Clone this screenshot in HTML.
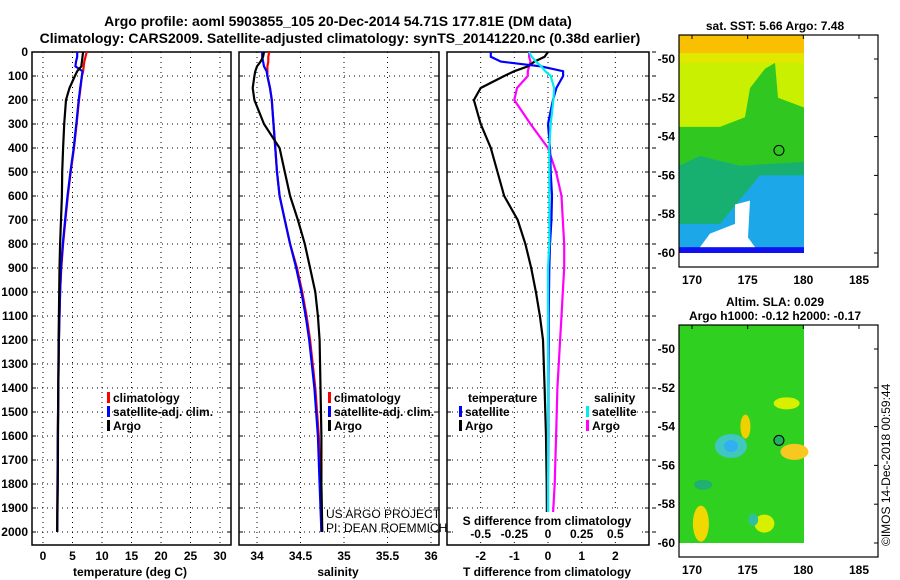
<!DOCTYPE html>
<html><head><meta charset="utf-8"><style>
body{margin:0;background:#fff;}
svg{display:block;font-family:"Liberation Sans",Arial,sans-serif;font-weight:bold;}
</style></head><body>
<svg id="c" width="900" height="580" viewBox="0 0 900 580">
<text x="338" y="26" font-size="14" text-anchor="middle">Argo profile: aoml 5903855_105 20-Dec-2014 54.71S 177.81E (DM data)</text>
<text x="340" y="43" font-size="14" text-anchor="middle">Climatology: CARS2009. Satellite-adjusted climatology: synTS_20141220.nc (0.38d earlier)</text>
<g id="g"></g>
</svg>
<script>
// depth levels (m)
const depths=[0,20,40,60,80,100,150,200,300,400,500,600,700,800,900,1000,1100,1200,1400,1600,1800,2000];
// temperature (deg C)
const tArgo=[6.8,6.7,6.6,6.5,5.8,5.4,4.5,3.9,3.6,3.4,3.25,3.2,3.05,2.9,2.8,2.75,2.7,2.65,2.6,2.55,2.5,2.4];
const tClim=[7.4,7.2,7.0,6.9,6.8,6.6,6.35,6.1,5.7,5.25,4.7,4.2,3.8,3.4,3.1,2.9,2.8,2.7,2.6,2.5,2.45,2.4];
const tSat=[5.8,5.8,5.6,5.5,6.7,6.6,6.3,6.05,5.65,5.2,4.65,4.15,3.75,3.35,3.05,2.9,2.8,2.7,2.6,2.5,2.45,2.4];
// salinity
const sArgo=[34.08,34.07,34.04,34.0,33.98,33.97,33.95,33.97,34.08,34.26,34.32,34.38,34.47,34.55,34.61,34.67,34.70,34.72,34.73,34.74,34.74,34.75];
const sClim=[34.14,34.13,34.13,34.12,34.12,34.12,34.15,34.17,34.19,34.21,34.23,34.26,34.32,34.38,34.46,34.52,34.57,34.61,34.67,34.71,34.73,34.74];
const sSat=[34.06,34.06,34.07,34.08,34.11,34.12,34.15,34.17,34.19,34.21,34.23,34.26,34.32,34.38,34.45,34.51,34.56,34.60,34.66,34.70,34.72,34.74];
// differences from climatology
const dTArgo=[0,-0.1,-0.4,-0.6,-1.0,-1.3,-2.0,-2.2,-2.0,-1.7,-1.5,-1.3,-0.9,-0.67,-0.5,-0.36,-0.24,-0.15,-0.1,-0.06,-0.04,-0.03];
const dTSat=[-1.7,-1.7,-1.4,-0.2,0.45,0.45,0.25,0.15,0.0,0.06,0.08,0.12,0.1,0.06,0.04,0.03,0.02,0.02,0.01,0.01,0.0,0.0];
const dSArgo=[-0.14,-0.14,-0.13,-0.14,-0.15,-0.15,-0.23,-0.25,-0.13,0.0,0.06,0.1,0.11,0.12,0.12,0.11,0.1,0.09,0.07,0.06,0.05,0.03];
const dSSat=[-0.14,-0.12,-0.09,-0.05,-0.02,0.02,0.045,0.04,0.02,0.01,0.01,0.01,0.01,0.01,0.0,0.0,0.0,0.0,0.0,0.0,0.0,0.0];
const yTicks=[0,100,200,300,400,500,600,700,800,900,1000,1100,1200,1300,1400,1500,1600,1700,1800,1900,2000];
const tTicks=[0,5,10,15,20,25,30];
const sTicks=[34,34.5,35,35.5,36];
const dTTicks=[-2,-1,0,1,2];
const dSTicks=[-0.5,-0.25,0,0.25,0.5];

const NS='http://www.w3.org/2000/svg';
const G=document.getElementById('g');
function el(t,a,p){const e=document.createElementNS(NS,t);for(const k in a)e.setAttribute(k,a[k]);(p||G).appendChild(e);return e;}
const TOP=52,BOT=545;
const yS=d=>TOP+d*0.24;
function lin(d0,d1,r0,r1){return v=>r0+(v-d0)/(d1-d0)*(r1-r0);}
const P=[
 {x0:32,x1:231,sx:lin(0,30,43,220),ticks:tTicks,name:'temperature'},
 {x0:239,x1:439,sx:lin(34,36,257,431),ticks:sTicks,name:'salinity'},
 {x0:447,x1:649,sx:lin(-3,3,447,649),ticks:dTTicks,name:'difference'}
];
yTicks.forEach(d=>{const t=el('text',{x:28,y:yS(d)+4,'font-size':12,'text-anchor':'end'});t.textContent=d;

});
P.forEach((p,i)=>{
 const gg=el('g',{});
 
 
 yTicks.forEach(d=>{const l=el('line',{x1:p.x0,x2:p.x1,y1:yS(d),y2:yS(d),stroke:'#000','stroke-dasharray':'1 4','stroke-width':1},gg);
  
  el('line',{x1:p.x0,x2:p.x0+4,y1:yS(d),y2:yS(d),stroke:'#000'},gg);
  el('line',{x1:p.x1,x2:p.x1-4,y1:yS(d),y2:yS(d),stroke:'#000'},gg);
  if(i==2){el('line',{x1:p.x1+3,x2:p.x1+7,y1:yS(d),y2:yS(d),stroke:'#000'},gg);}
 });
 p.ticks.forEach(v=>{const x=p.sx(v);
  el('line',{x1:x,x2:x,y1:TOP,y2:BOT,stroke:'#000','stroke-dasharray':'1 4'},gg);
  const t=el('text',{x:x,y:560,'font-size':12,'text-anchor':'middle'},gg);t.textContent=v;
  });
 el('rect',{x:p.x0,y:TOP,width:p.x1-p.x0,height:BOT-TOP,fill:'none',stroke:'#000','stroke-width':1.5},gg);
});
function line(xs,sx,col,name){let pts=depths.map((d,i)=>sx(xs[i]).toFixed(1)+','+yS(d).toFixed(1)).join(' ');
 const l=el('polyline',{points:pts,fill:'none',stroke:col,'stroke-width':2.2});
 
 }
line(tClim,P[0].sx,'#f00','temp-climatology-line');
line(tSat,P[0].sx,'#00f','temp-satellite-line');
line(tArgo,P[0].sx,'#000','temp-argo-line');
line(sClim,P[1].sx,'#f00','sal-climatology-line');
line(sSat,P[1].sx,'#00f','sal-satellite-line');
line(sArgo,P[1].sx,'#000','sal-argo-line');
const sxS=v=>P[2].sx(v*4);
line(dSArgo,sxS,'#f0f','sal-diff-argo-line');
line(dTArgo,P[2].sx,'#000','temp-diff-argo-line');
line(dTSat,P[2].sx,'#00f','temp-diff-satellite-line');
line(dSSat,sxS,'#0ee','sal-diff-satellite-line');
el('rect',{x:455,y:512,width:186,height:30,fill:'#fff'});
dSTicks.forEach(v=>{const t=el('text',{x:sxS(v),y:538,'font-size':12,'text-anchor':'middle'});t.textContent=v;
 });
function txt(x,y,s,str,name,anchor,extra){const t=el('text',Object.assign({x:x,y:y,'font-size':s,'text-anchor':anchor||'start'},extra||{}));t.textContent=str;
 return t;}
txt(547,525,12,'S difference from climatology','sdiff-axis-title','middle');
txt(130,576,12,'temperature (deg C)','x-axis-title-temperature','middle');
txt(338,576,12,'salinity','x-axis-title-salinity','middle');
txt(547,576,12,'T difference from climatology','x-axis-title-tdiff','middle');
function leg(x,y,col,str,name){el('rect',{x:x,y:y-10,width:3,height:11,fill:col});txt(x+6,y,12,str,name);}
leg(107,402,'#f00','climatology','legend-climatology');
leg(107,416,'#00f','satellite-adj. clim.','legend-satellite');
leg(107,430,'#000','Argo','legend-argo');
leg(328,402,'#f00','climatology','legend-sal-climatology');
leg(328,416,'#00f','satellite-adj. clim.','legend-sal-satellite');
leg(328,430,'#000','Argo','legend-sal-argo');
txt(468,402,12,'temperature','legend-temp-header');
leg(459,416,'#00f','satellite','legend-tdiff-satellite');
leg(459,430,'#000','Argo','legend-tdiff-argo');
txt(594,402,12,'salinity','legend-sal-header');
leg(586,416,'#0ee','satellite','legend-sdiff-satellite');
leg(586,430,'#f0f','Argo','legend-sdiff-argo');
txt(326,518,12,'US ARGO PROJECT','credit-project','start',{'font-weight':'normal'});
txt(326,532,12,'PI: DEAN ROEMMICH','credit-pi','start',{'font-weight':'normal'});
const lonX=lin(170,185,692,859);
function map(y0,y1,lat50,lat60,title1,title2,name,zones,circ){
 const g=el('g',{});
 const latY=lin(-50,-60,lat50,lat60);
 zones(g,latY);
 el('rect',{x:679,y:y0,width:199,height:y1-y0,fill:'none',stroke:'#000','stroke-width':1.2},g);
 [-50,-52,-54,-56,-58,-60].forEach(v=>{el('line',{x1:874,x2:878,y1:latY(v),y2:latY(v),stroke:'#000'},g);
  txt(675,latY(v)+4,12,v,'lat-tick-label','end');});
 [170,175,180,185].forEach(v=>{el('line',{x1:lonX(v),x2:lonX(v),y1:y0,y2:y0+4,stroke:'#000'},g);
  txt(lonX(v),y1+17,12,v,'lon-tick-label','middle');});
 el('circle',{cx:lonX(177.81),cy:latY(-54.71),r:5,fill:circ,stroke:'#000'},g);
 if(title1)txt(775,y0-19,12,title1,name+'-title','middle');
 txt(775,y0-5,12,title2,name+'-title','middle');
}
map(35,267,59,253,null,'sat. SST: 5.66 Argo: 7.48','sst-map',(g,ly)=>{
 const x0=679,x1=804;
 el('rect',{x:x0,y:35,width:x1-x0,height:ly(-60)-35,fill:'#c8f000'},g);
 el('rect',{x:x0,y:35,width:x1-x0,height:ly(-49.7)-35,fill:'#f8c000'},g);
 el('rect',{x:x0,y:ly(-49.7),width:x1-x0,height:10,fill:'#e0e800'},g);
 el('polygon',{points:`${x0},${ly(-53.5)} 720,${ly(-53.5)} 745,${ly(-53)} 750,${ly(-51.5)} 765,${ly(-50.5)} 775,${ly(-50.2)} 778,${ly(-52)} ${x1},${ly(-52.5)} ${x1},${ly(-60)} ${x0},${ly(-60)}`,fill:'#30c820'},g);
 el('polygon',{points:`${x0},${ly(-55.5)} 700,${ly(-55)} 740,${ly(-55.5)} ${x1},${ly(-55.3)} ${x1},${ly(-60)} ${x0},${ly(-60)}`,fill:'#18b070'},g);
 el('polygon',{points:`${x0},${ly(-58.5)} 720,${ly(-58.5)} 760,${ly(-56)} ${x1},${ly(-56)} ${x1},${ly(-60)} ${x0},${ly(-60)}`,fill:'#1ca8e8'},g);
 el('rect',{x:x0,y:ly(-59.7),width:x1-x0,height:ly(-60)-ly(-59.7),fill:'#1010f0'},g);
 el('polygon',{points:`735,${ly(-57.5)} 750,${ly(-57.3)} 748,${ly(-59.2)} 755,${ly(-59.7)} 700,${ly(-59.7)} 710,${ly(-59)} 735,${ly(-58.5)}`,fill:'#fff'},g);
 el('rect',{x:x0,y:ly(-60),width:x1-x0,height:267-ly(-60),fill:'#fff'},g);
},'none');
map(325,557,349,543,'Altim. SLA: 0.029','Argo h1000: -0.12 h2000: -0.17','sla-map',(g,ly)=>{
 const x0=679,x1=804;
 el('rect',{x:x0,y:325,width:x1-x0,height:ly(-60)-325,fill:'#30d020'},g);
 el('ellipse',{cx:lonX(173.5),cy:ly(-55),rx:16,ry:12,fill:'#40c8c0'},g);
 el('ellipse',{cx:lonX(173.5),cy:ly(-55),rx:7,ry:6,fill:'#30b0f0'},g);
 el('ellipse',{cx:lonX(179.2),cy:ly(-55.3),rx:14,ry:8,fill:'#f8c820'},g);
 el('ellipse',{cx:lonX(178.5),cy:ly(-52.8),rx:13,ry:6,fill:'#d8f000'},g);
 el('ellipse',{cx:lonX(174.8),cy:ly(-54),rx:5,ry:12,fill:'#f0d000'},g);
 el('ellipse',{cx:lonX(170.8),cy:ly(-59),rx:8,ry:18,fill:'#f0d800'},g);
 el('ellipse',{cx:lonX(176.5),cy:ly(-59),rx:10,ry:9,fill:'#d8f000'},g);
 el('ellipse',{cx:lonX(175.5),cy:ly(-58.8),rx:5,ry:6,fill:'#30c0a0'},g);
 el('ellipse',{cx:lonX(171),cy:ly(-57),rx:9,ry:5,fill:'#20b070'},g);
 el('rect',{x:x0,y:ly(-60),width:x1-x0,height:557-ly(-60),fill:'#fff'},g);
},'#20b060');
txt(0,0,12,'\u00a9IMOS 14-Dec-2018 00:59:44','imos-credit','start',{'font-weight':'normal',transform:'translate(890,546) rotate(-90)'});
</script>
</body></html>
